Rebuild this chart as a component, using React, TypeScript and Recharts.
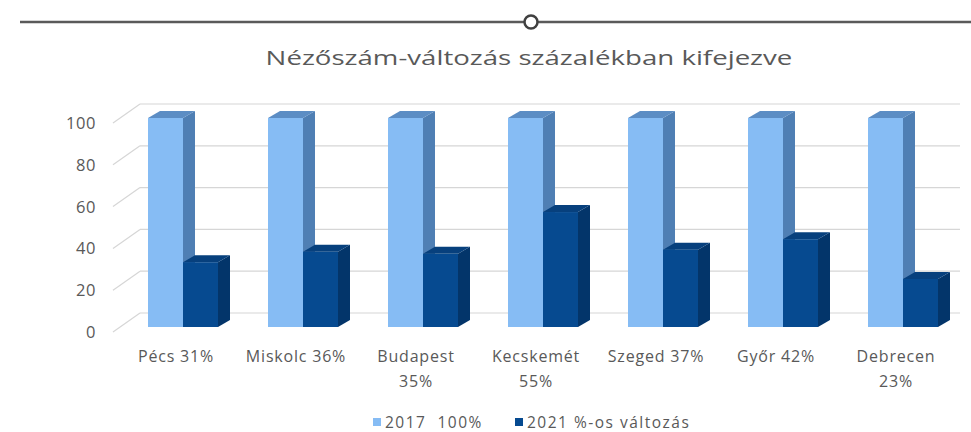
import { BarChart, Bar, XAxis, YAxis, CartesianGrid, Legend } from 'recharts';

const cities = ['Pécs', 'Miskolc', 'Budapest', 'Kecskemét', 'Szeged', 'Győr', 'Debrecen'];
const base2017 = [100, 100, 100, 100, 100, 100, 100];
const change2021 = [31, 36, 35, 55, 37, 42, 23];
const yTicks = [0, 20, 40, 60, 80, 100];
const seriesNames = ['2017  100%', '2021 %-os változás'];

const data = cities.map((c, i) => ({
  name: `${c} ${change2021[i]}%`,
  base: base2017[i],
  change: change2021[i],
}));

const LIGHT = { front: '#86BCF4', side: '#4F7FB4', top: '#5C8DC4' };
const DARK = { front: '#064A90', side: '#03356A', top: '#07407D' };
const DX = 12;
const DY = 7;
const FONT = '"Open Sans", sans-serif';

const box = (c: typeof LIGHT) => (props: any) => {
  const { x, y, width: w, height: h } = props;
  if (h == null || h <= 0) return <g />;
  return (
    <g>
      <path d={`M${x + w},${y} L${x + w + DX},${y - DY} L${x + w + DX},${y + h - DY} L${x + w},${y + h} Z`} fill={c.side} />
      <path d={`M${x},${y} L${x + DX},${y - DY} L${x + w + DX},${y - DY} L${x + w},${y} Z`} fill={c.top} />
      <rect x={x} y={y} width={w} height={h} fill={c.front} />
    </g>
  );
};

// back-wall gridline plus the short floor diagonal toward the label
const gridLine = (props: any) => {
  const { y1, x2, key } = props;
  return (
    <g key={key}>
      <line x1={113} y1={y1 + 5} x2={140} y2={y1 - 14} stroke="#D6D6D6" strokeWidth={1.2} />
      <line x1={140} y1={y1 - 14} x2={x2 - 3} y2={y1 - 14} stroke="#D6D6D6" strokeWidth={1.2} />
    </g>
  );
};

const YTick = (props: any) => {
  const { y, payload } = props;
  return (
    <text x={96} y={y + 5} dy={6} textAnchor="end" fill="#595959" fontSize={16.5} letterSpacing={0.6} fontFamily={FONT}>
      {payload.value}
    </text>
  );
};

const XTick = (props: any) => {
  const { x, y, payload } = props;
  const label: string = payload.value;
  let lines = [label];
  if (label.length > 11) {
    const i = label.lastIndexOf(' ');
    lines = [label.slice(0, i), label.slice(i + 1)];
  }
  return (
    <text x={x - 7} y={y} textAnchor="middle" fill="#595959" fontSize={16} letterSpacing={0.8} fontFamily={FONT}>
      {lines.map((l, i) => (
        <tspan key={i} x={x - 7} dy={i === 0 ? 27 : 25}>
          {l}
        </tspan>
      ))}
    </text>
  );
};

const LegendContent = () => (
  <div style={{ display: 'flex', fontFamily: FONT, fontSize: 15.5, lineHeight: '18px', letterSpacing: 1.5, color: '#595959', height: 18, alignItems: 'center', paddingLeft: 373 }}>
    {seriesNames.map((n, i) => (
      <div key={n} style={{ display: 'flex', alignItems: 'center', marginRight: 32 }}>
        <span style={{ width: 8, height: 8, background: i === 0 ? LIGHT.front : DARK.front, marginRight: 4, display: 'inline-block' }} />
        <span style={{ whiteSpace: 'pre' }}>{n}</span>
      </div>
    ))}
  </div>
);

export default function App() {
  return (
    <div style={{ position: 'absolute', left: 0, top: 0, width: 971, height: 432, background: '#fff' }}>
      <svg width={971} height={40} style={{ position: 'absolute', left: 0, top: 0 }}>
        <line x1={20} y1={22} x2={971} y2={22} stroke="#5A5A5A" strokeWidth={2.5} />
        <circle cx={531} cy={22} r={6.5} fill="#fff" stroke="#404040" strokeWidth={2.5} />
      </svg>
      <div style={{ position: 'absolute', left: 329, top: 44, width: 400, textAlign: 'center', fontFamily: FONT, fontSize: 20, color: '#595959', whiteSpace: 'nowrap', transform: 'scaleX(1.38)', transformOrigin: '50% 50%' }}>
        Nézőszám-változás százalékban kifejezve
      </div>
      <BarChart width={971} height={432} data={data} margin={{ top: 118, right: 8, bottom: 37, left: 0 }} barCategoryGap={25} barGap={0}>
        <CartesianGrid vertical={false} horizontal={gridLine} />
        <XAxis dataKey="name" height={50} axisLine={false} tickLine={false} tick={<XTick />} interval={0} />
        <YAxis domain={[0, 100]} ticks={yTicks} width={123} axisLine={false} tickLine={false} tick={<YTick />} />
        <Legend verticalAlign="bottom" height={18} content={<LegendContent />} wrapperStyle={{ top: 413, left: 0, width: 971 }} />
        <Bar dataKey="base" name={seriesNames[0]} shape={box(LIGHT)} isAnimationActive={false} />
        <Bar dataKey="change" name={seriesNames[1]} shape={box(DARK)} isAnimationActive={false} />
      </BarChart>
    </div>
  );
}
